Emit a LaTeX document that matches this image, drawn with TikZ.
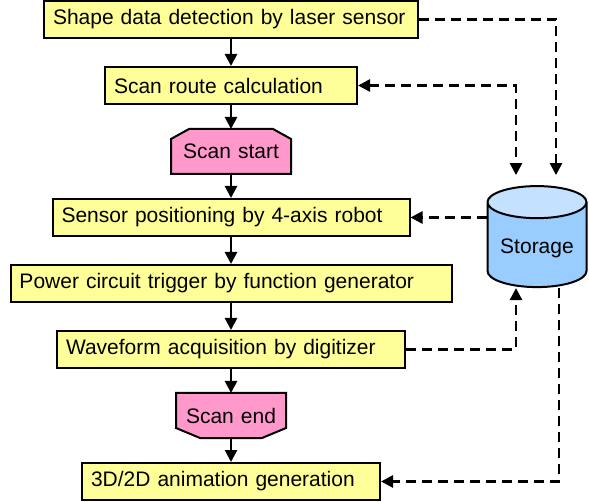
\documentclass[tikz,border=0pt]{standalone}
\usepackage{fontspec}
\setmainfont{Liberation Sans}
\usetikzlibrary{shapes}
\usetikzlibrary{backgrounds}
\usetikzlibrary{positioning}
\usetikzlibrary{arrows.meta}
\definecolor{boxyellow}{RGB}{255,255,153}
\definecolor{scanpink}{RGB}{255,153,204}
\definecolor{storebody}{RGB}{153,204,255}
\definecolor{storetop}{RGB}{196,226,255}

\begin{document}
\begin{tikzpicture}[x=1pt, y=-1pt, node distance=66pt, line width=2pt,
    >={Triangle[length=12pt,width=12pt]},
    font=\fontsize{21}{25}\selectfont,
    stepbox/.style={draw, fill=boxyellow, minimum height=37pt, inner xsep=9pt, inner ysep=0pt,
                    align=left, text width=#1},
    scanmark/.style={minimum height=43pt, inner xsep=9pt, inner ysep=0pt, align=center, text width=#1},
    scanfill/.style={draw, fill=scanpink, line width=2pt},
    flow/.style={->, line width=2.6pt},
    dataflow/.style={->, line width=2.6pt, dash pattern=on 10pt off 6pt}]
      \useasboundingbox (0,0) rectangle (589,502);
      \node[stepbox=356pt]  (det)   at (231,19.5)        {Shape data detection by laser sensor};
      \node[stepbox=234pt]  (route) [below of=det]       {Scan route calculation};
      \node[scanmark=100pt] (start) [below of=route]     {Scan start};
      \node[stepbox=339pt]  (pos)   [below of=start]     {Sensor positioning by 4-axis robot};
      \node[stepbox=423pt]  (trig)  [below of=pos]       {Power circuit trigger by function generator};
      \node[stepbox=330pt]  (acq)   [below of=trig]      {Waveform acquisition by digitizer};
      \node[scanmark=90pt]  (stop)  [below of=acq]       {Scan end};
      \node[stepbox=280pt]  (anim)  [below of=stop]      {3D/2D animation generation};

      \node[cylinder, shape border rotate=90, draw, aspect=0.4, minimum width=99pt, minimum height=101pt,
            cylinder uses custom fill, cylinder end fill=storetop, cylinder body fill=storebody]
            (stor) at (537,248) {Storage};

      \path[flow] (det)   edge (route)
                  (route) edge (start)
                  (start) edge (pos)
                  (pos)   edge (trig)
                  (trig)  edge (acq)
                  (acq)   edge (stop)
                  (stop)  edge (anim);

      \draw[dataflow, shorten >=10pt] (det.east) -| ([xshift=19pt]stor.north);
      \draw[dataflow, <->, shorten >=10pt] (route.east) -| ([xshift=-21pt]stor.north);
      \draw[dataflow] (stor.west |- pos) -- (pos.east);
      \draw[dataflow] (acq.east) -| ([xshift=-21pt]stor.south);
      \draw[dataflow] ([xshift=22pt]stor.south) |- (anim.east);

      \begin{scope}[on background layer]
        \draw[scanfill] (start.south west) -- ([yshift=-10pt]start.north west) -- ([xshift=18pt]start.north west)
          -- ([xshift=-18pt]start.north east) -- ([yshift=-10pt]start.north east) -- (start.south east) -- cycle;
        \draw[scanfill] (stop.north west) -- ([yshift=10pt]stop.south west) -- ([xshift=24pt]stop.south west)
          -- ([xshift=-24pt]stop.south east) -- ([yshift=10pt]stop.south east) -- (stop.north east) -- cycle;
      \end{scope}
    \end{tikzpicture}
\end{document}
